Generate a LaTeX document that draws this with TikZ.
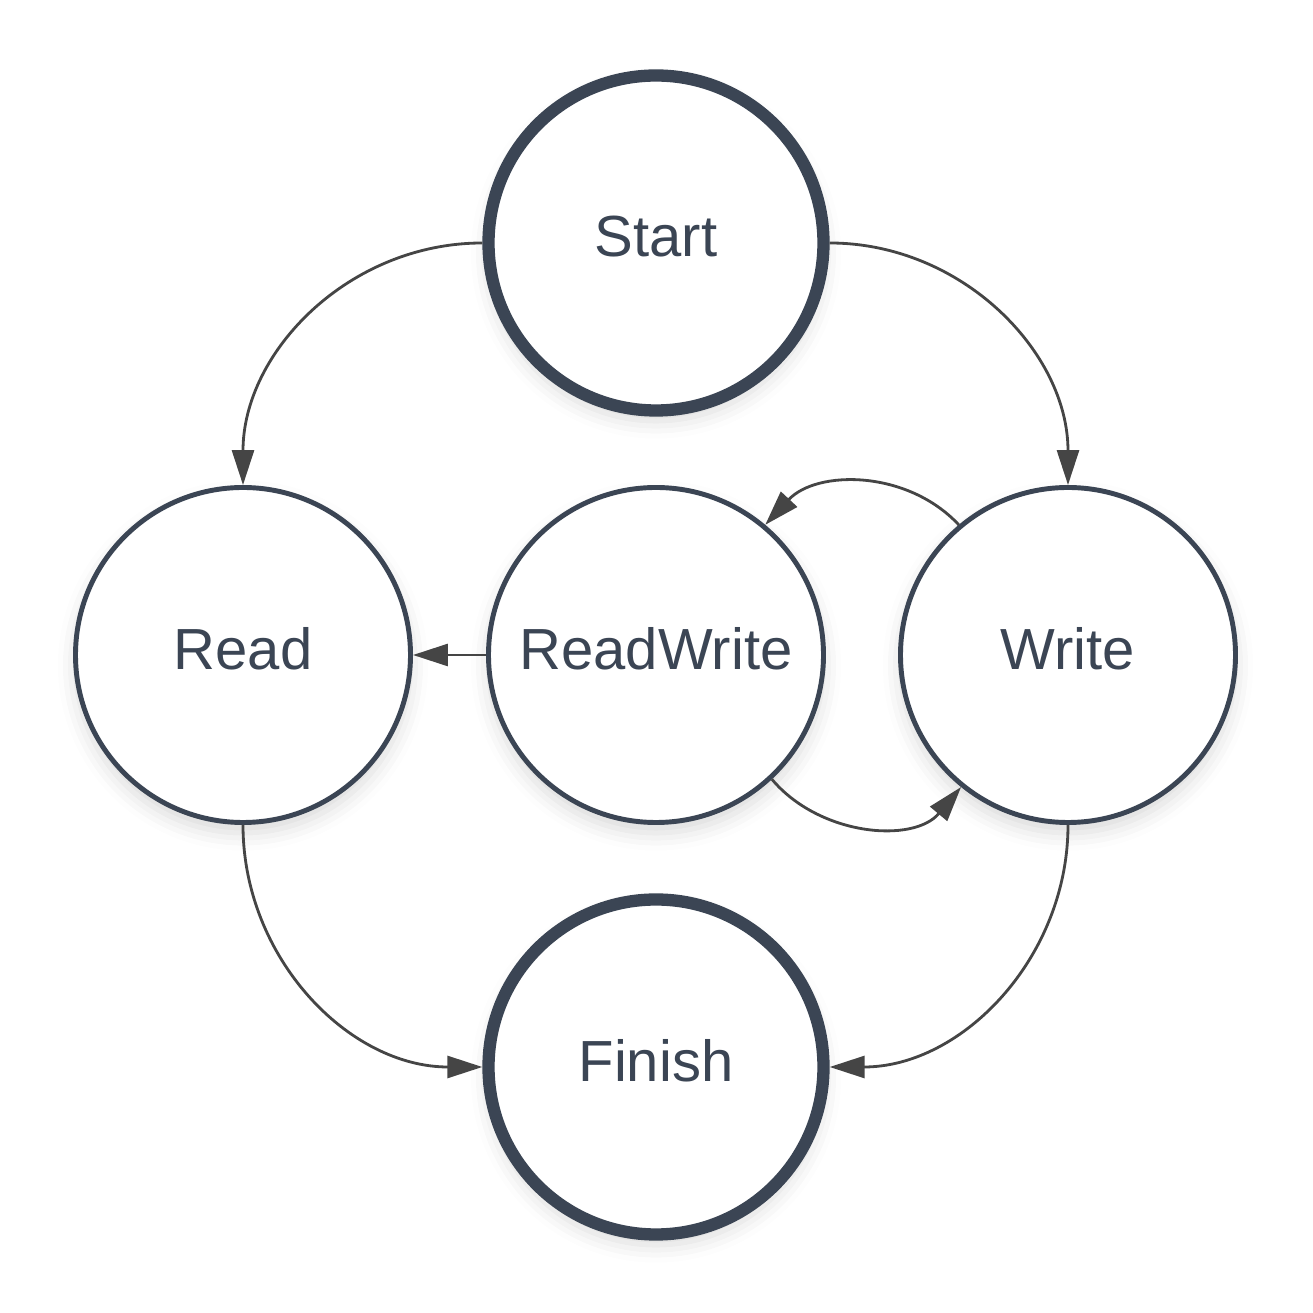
\documentclass[tikz,border=0pt]{standalone}
\usepackage{fontspec}
\setmainfont{Liberation Sans}
\usetikzlibrary{arrows.meta,shadows.blur}
\definecolor{slate}{HTML}{3B4554}
\definecolor{edgegray}{HTML}{454545}
\begin{document}
\begin{tikzpicture}[
  state/.style={shape=circle,draw=slate,line width=1.4pt,fill=white,minimum size=3.35cm,text=slate,
    font=\fontsize{16.5}{20}\selectfont,text depth=0.13cm,
    blur shadow={shadow xshift=0pt,shadow yshift=-3pt,shadow blur radius=5pt,shadow opacity=15}},
  endstate/.style={state,line width=3.5pt},
  trans/.style={draw=edgegray,line width=0.8pt,-{Triangle[length=0.35cm,width=0.22cm]}}]
 \useasboundingbox (0,0) rectangle (13.13,13.13);
 \node (state 1) at (6.56,10.70) [endstate] {Start};
 \node (state 2) at (2.43,6.58) [state] {Read};
 \node (state 3) at (6.56,6.58) [state] {ReadWrite};
 \node (state 4) at (10.68,6.58) [state] {Write};
 \node (state 5) at (6.56,2.46) [endstate] {Finish};
 \draw[trans] (state 1.west) to[out=180,in=90] (state 2.north);
 \draw[trans] (state 1.east) to[out=0,in=90] (state 4.north);
 \draw[trans] (state 2.south) to[out=-90,in=180] (state 5.west);
 \draw[trans] (state 4.south) to[out=-90,in=0] (state 5.east);
 \draw[trans] (state 3.west) -- (state 2.east);
 \draw[trans] (state 4.130) to[out=133,in=47] (state 3.50);
 \draw[trans] (state 3.-47) to[out=-50,in=-130] (state 4.-129);
\end{tikzpicture}
\end{document}
